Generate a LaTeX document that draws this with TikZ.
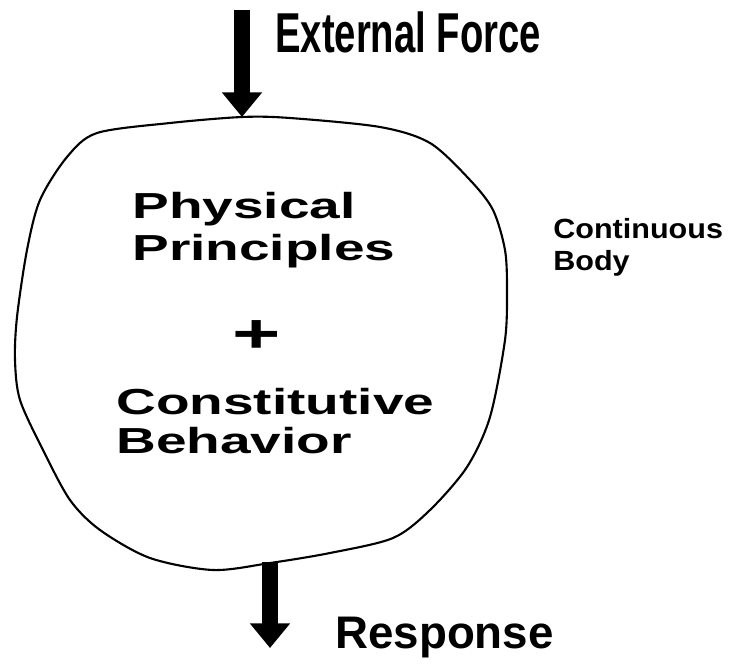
\documentclass[tikz,border=0pt]{standalone}
\usepackage{fontspec}
\usetikzlibrary{arrows.meta}
\newfontfamily\forcefont[FakeStretch=0.68]{Liberation Sans}
\newfontfamily\respfont{Liberation Sans}
\newfontfamily\lawfont[FakeStretch=1.52]{Liberation Sans}
\newfontfamily\bodyfont[FakeStretch=1.1]{Liberation Sans}

\begin{document}
\begin{tikzpicture}[x=0.02cm,y=-0.02cm,
   load/.style={line width=9.6pt,-{Triangle[length=14pt,width=22pt]}},
   law/.style={anchor=base west,inner sep=0pt,font=\lawfont\bfseries\fontsize{20.6}{24}\selectfont}]
\useasboundingbox (0,0) rectangle (730,666);

% the body
\draw[line width=1.2pt] plot[smooth cycle] coordinates {
   (242,117) (290,118) (380,127) (430,143) (470,180) (493,210) (505,250)
   (507,290) (505,340) (490,417) (467,467) (430,510) (393,538) (330,553)
   (270,563) (213,570) (150,558) (100,530) (70,500) (43,450) (20,400)
   (15,360) (17,317) (27,250) (40,200) (67,157) (97,133) (170,123)};
\coordinate (top) at (242,117);
\coordinate (bot) at (270,562);
\coordinate (in) at (242,10);
\coordinate (out) at (270,648);

\draw[load] (in) -- (top);
\draw[load] (bot) -- (out);

\node[anchor=base west,inner sep=0pt,font=\forcefont\bfseries\fontsize{32}{36}\selectfont] (force) at (275,52) {External Force};
\node[anchor=base west,inner sep=0pt,font=\respfont\bfseries\fontsize{26}{30}\selectfont] (resp) at (335,648) {Response};

\node[law] (phys) at (132,218) {Physical};
\node[law] (princ) at (132,260) {Principles};
\node[inner sep=0pt,font=\lawfont\bfseries\fontsize{31}{36}\selectfont] (plus) at (257,337) {+};
\node[law] (const) at (116,414) {Constitutive};
\node[law] (behav) at (116,453) {Behavior};

\node[anchor=base west,inner sep=0pt,font=\bodyfont\bfseries\fontsize{15.8}{18}\selectfont] (cont) at (553,238) {Continuous};
\node[anchor=base west,inner sep=0pt,font=\bodyfont\bfseries\fontsize{15.8}{18}\selectfont] (body) at (553,270) {Body};
\end{tikzpicture}
\end{document}
